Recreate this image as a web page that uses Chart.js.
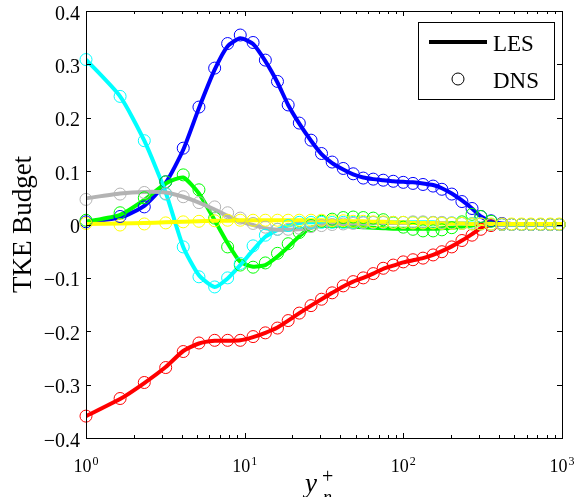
<!DOCTYPE html>
<html>
<head>
<meta charset="utf-8">
<script src="https://cdn.jsdelivr.net/npm/chart.js@4.4.0/dist/chart.umd.min.js"></script>
<style>
  html, body { margin: 0; padding: 0; background: #fff; }
  canvas { display: block; }
</style>
</head>
<body>
<canvas id="tkeChart" width="574" height="497"></canvas>
<script>
// wall distance y_n^+ of the DNS samples
const dnsX = [1.0, 1.64, 2.33, 3.18, 4.10, 5.15, 6.47, 7.81, 9.38, 11.3,
  13.5, 16.1, 18.8, 22.1, 26.2, 30.5, 35.6, 41.8, 48.3, 55.9,
  64.6, 74.7, 86.4, 99.9, 115, 133, 154, 175, 202, 234,
  271, 308, 357, 418, 481, 556, 637, 733, 843, 960];
// LES grid (same points, run out to the edge)
const lesX = [1.0, 1.64, 2.33, 3.18, 4.10, 5.15, 6.47, 7.81, 9.38, 11.3,
  13.5, 16.1, 18.8, 22.1, 26.2, 30.5, 35.6, 41.8, 48.3, 55.9,
  64.6, 74.7, 86.4, 99.9, 115, 133, 154, 175, 202, 234,
  271, 308, 357, 418, 481, 556, 637, 733, 843, 960, 1000];

// budget terms, DNS
const blueDns = [0.005, 0.015, 0.033, 0.080, 0.143, 0.220, 0.293, 0.339, 0.355, 0.341,
  0.308, 0.268, 0.224, 0.190, 0.158, 0.133, 0.117, 0.105, 0.095, 0.087,
  0.085, 0.083, 0.081, 0.079, 0.077, 0.075, 0.072, 0.066, 0.057, 0.043,
  0.030, 0.015, 0.007, 0.002, 0, 0, 0, 0, 0, 0];
const redDns = [-0.359, -0.326, -0.296, -0.268, -0.238, -0.222, -0.217, -0.217, -0.217, -0.210,
  -0.203, -0.194, -0.180, -0.166, -0.152, -0.140, -0.128, -0.115, -0.107, -0.100,
  -0.092, -0.082, -0.076, -0.070, -0.066, -0.063, -0.057, -0.051, -0.042, -0.030,
  -0.020, -0.009, -0.002, 0, 0, 0, 0, 0, 0, 0];
const greenDns = [0.008, 0.022, 0.050, 0.080, 0.093, 0.065, 0.012, -0.042, -0.076, -0.080,
  -0.072, -0.054, -0.036, -0.015, -0.002, 0.006, 0.010, 0.013, 0.014, 0.013,
  0.012, 0.009, 0.003, -0.005, -0.009, -0.012, -0.012, -0.010, -0.006, 0.005,
  0.019, 0.015, 0.006, 0, 0, 0, 0, 0, 0, 0];
const cyanDns = [0.309, 0.240, 0.157, 0.057, -0.042, -0.098, -0.117, -0.100, -0.073, -0.040,
  -0.020, -0.009, -0.002, 0.004, 0.004, 0.004, 0.004, 0.004, 0.004, 0.004,
  0.004, 0.004, 0.004, 0.004, 0.004, 0.004, 0.004, 0.003, 0.003, 0.002,
  0.002, 0.001, 0, 0, 0, 0, 0, 0, 0, 0];
const grayDns = [0.047, 0.057, 0.060, 0.058, 0.052, 0.041, 0.033, 0.022, 0.012, 0.002,
  -0.005, -0.009, -0.009, -0.007, -0.004, -0.002, 0.000, 0.001, 0.002, 0.003,
  0.004, 0.004, 0.004, 0.004, 0.005, 0.005, 0.004, 0.004, 0.003, 0.002,
  0.001, 0.001, 0, 0, 0, 0, 0, 0, 0, 0];
const yellowDns = [0.002, -0.001, 0.001, 0.003, 0.005, 0.006, 0.007, 0.008, 0.008, 0.008,
  0.008, 0.008, 0.008, 0.008, 0.008, 0.008, 0.007, 0.007, 0.006, 0.006,
  0.005, 0.005, 0.004, 0.004, 0.003, 0.003, 0.003, 0.002, 0.002, 0.002,
  0.001, 0.001, 0.001, 0.001, 0.001, 0.001, 0.001, 0.001, 0.001, 0.001];

// budget terms, LES
const blueLes = [0.005, 0.013, 0.035, 0.078, 0.140, 0.218, 0.290, 0.334, 0.349, 0.338,
  0.306, 0.266, 0.224, 0.189, 0.157, 0.132, 0.115, 0.103, 0.094, 0.088,
  0.085, 0.083, 0.081, 0.080, 0.079, 0.077, 0.074, 0.068, 0.058, 0.045,
  0.030, 0.015, 0.006, 0.002, 0.001, 0, 0, 0, 0, 0, 0];
const redLes = [-0.359, -0.327, -0.297, -0.267, -0.237, -0.223, -0.218, -0.218, -0.217, -0.211,
  -0.203, -0.193, -0.180, -0.166, -0.152, -0.140, -0.128, -0.116, -0.107, -0.100,
  -0.092, -0.083, -0.077, -0.071, -0.067, -0.063, -0.057, -0.050, -0.041, -0.030,
  -0.018, -0.007, -0.001, 0, 0, 0, 0, 0, 0, 0, 0];
const greenLes = [0.005, 0.018, 0.046, 0.077, 0.088, 0.058, 0.008, -0.035, -0.070, -0.079,
  -0.076, -0.060, -0.042, -0.022, -0.006, -0.003, -0.003, -0.003, -0.004, -0.005,
  -0.006, -0.007, -0.008, -0.008, -0.008, -0.008, -0.008, -0.007, -0.006, -0.004,
  -0.002, 0.001, 0.002, 0, 0, 0, 0, 0, 0, 0, 0];
const cyanLes = [0.309, 0.240, 0.157, 0.060, -0.042, -0.095, -0.117, -0.101, -0.076, -0.048,
  -0.023, -0.010, -0.002, 0.003, 0.004, 0.004, 0.004, 0.004, 0.004, 0.004,
  0.004, 0.004, 0.004, 0.004, 0.004, 0.004, 0.004, 0.003, 0.003, 0.002,
  0.002, 0.001, 0, 0, 0, 0, 0, 0, 0, 0, 0];
const grayLes = [0.049, 0.058, 0.061, 0.060, 0.052, 0.041, 0.028, 0.016, 0.006, -0.001,
  -0.007, -0.010, -0.010, -0.009, -0.006, -0.002, 0.000, 0.001, 0.002, 0.002,
  0.003, 0.003, 0.003, 0.003, 0.003, 0.003, 0.003, 0.003, 0.002, 0.002,
  0.001, 0.001, 0, 0, 0, 0, 0, 0, 0, 0, 0];
const yellowLes = [0.001, 0.002, 0.003, 0.004, 0.005, 0.006, 0.007, 0.007, 0.008, 0.008,
  0.008, 0.008, 0.008, 0.008, 0.008, 0.008, 0.007, 0.007, 0.006, 0.006,
  0.005, 0.005, 0.004, 0.004, 0.003, 0.003, 0.003, 0.002, 0.002, 0.002,
  0.001, 0.001, 0.001, 0.001, 0.001, 0.001, 0.001, 0.001, 0.001, 0.001, 0.001];

// axis ticks
const xMajor = [1, 10, 100, 1000];
const xMajorExp = ['0', '1', '2', '3'];
const yTicks = [0.4, 0.3, 0.2, 0.1, 0, -0.1, -0.2, -0.3, -0.4];
const yTickLabels = ['0.4', '0.3', '0.2', '0.1', '0', '\u22120.1', '\u22120.2', '\u22120.3', '\u22120.4'];

const SERIF = '"Liberation Serif", "DejaVu Serif", serif';

function pts(xs, ys) {
  return ys.map((v, i) => ({x: xs[i], y: v}));
}

function lesSet(ys, color, order) {
  return {
    data: pts(lesX, ys),
    borderColor: color,
    borderWidth: 4,
    pointRadius: 0,
    tension: 0.2,
    fill: false,
    order: order
  };
}

function dnsSet(ys, color, order) {
  return {
    data: pts(dnsX, ys),
    showLine: false,
    borderColor: color,
    pointStyle: 'circle',
    pointRadius: 6,
    pointBorderWidth: 1,
    pointBorderColor: color,
    pointBackgroundColor: 'rgba(0,0,0,0)',
    clip: 10,
    order: order
  };
}

const frame = {
  id: 'frame',
  afterDatasetsDraw(chart) {
    const ctx = chart.ctx;
    const a = chart.chartArea;
    const xs = chart.scales.x;
    const ys = chart.scales.y;
    ctx.save();
    ctx.strokeStyle = '#000';
    ctx.lineWidth = 1;
    ctx.strokeRect(a.left + 0.5, a.top + 0.5, a.right - a.left, a.bottom - a.top);

    ctx.beginPath();
    for (let d = 1; d < 1000; d *= 10) {
      for (let k = 1; k < 10; k++) {
        const len = k === 1 ? 5 : 3;
        const px = Math.round(xs.getPixelForValue(d * k)) + 0.5;
        ctx.moveTo(px, a.bottom); ctx.lineTo(px, a.bottom - len);
        ctx.moveTo(px, a.top); ctx.lineTo(px, a.top + len);
      }
    }
    yTicks.forEach(v => {
      const py = Math.round(ys.getPixelForValue(v)) + 0.5;
      ctx.moveTo(a.left, py); ctx.lineTo(a.left + 5, py);
      ctx.moveTo(a.right, py); ctx.lineTo(a.right - 5, py);
    });
    ctx.stroke();

    ctx.fillStyle = '#000';
    // y tick labels
    ctx.font = '20px ' + SERIF;
    ctx.textAlign = 'right';
    ctx.textBaseline = 'alphabetic';
    yTicks.forEach((v, i) => {
      ctx.fillText(yTickLabels[i], a.left - 6, ys.getPixelForValue(v) + 8.5);
    });
    // x tick labels 10^n
    xMajor.forEach((v, i) => {
      const px = xs.getPixelForValue(v);
      ctx.font = '18px ' + SERIF;
      const w1 = ctx.measureText('10').width;
      ctx.font = '12px ' + SERIF;
      const w2 = ctx.measureText(xMajorExp[i]).width;
      const left = px - (w1 + w2 + 1) / 2;
      ctx.textAlign = 'left';
      ctx.font = '18px ' + SERIF;
      ctx.fillText('10', left, a.bottom + 34);
      ctx.font = '12px ' + SERIF;
      ctx.fillText(xMajorExp[i], left + w1 + 1, a.bottom + 27);
    });

    // axis titles
    ctx.save();
    ctx.translate(31, (a.top + a.bottom) / 2);
    ctx.rotate(-Math.PI / 2);
    ctx.textAlign = 'center';
    ctx.font = '27px ' + SERIF;
    ctx.fillText('TKE Budget', 0, 0);
    ctx.restore();

    ctx.textAlign = 'left';
    ctx.font = 'italic 27px ' + SERIF;
    ctx.fillText('y', 305, 492);
    ctx.font = '20px ' + SERIF;
    ctx.fillText('+', 322, 483);
    ctx.font = 'italic 18px ' + SERIF;
    ctx.fillText('n', 323, 503);

    // legend
    ctx.fillStyle = '#fff';
    ctx.fillRect(418, 22, 136, 77);
    ctx.strokeStyle = '#000';
    ctx.lineWidth = 1;
    ctx.strokeRect(418.5, 22.5, 136, 77);
    ctx.lineWidth = 4;
    ctx.beginPath();
    ctx.moveTo(429, 42); ctx.lineTo(487, 42);
    ctx.stroke();
    ctx.lineWidth = 1;
    ctx.beginPath();
    ctx.arc(458, 79, 6, 0, Math.PI * 2);
    ctx.stroke();
    ctx.fillStyle = '#000';
    ctx.font = '23px ' + SERIF;
    ctx.fillText('LES', 493, 51);
    ctx.fillText('DNS', 493, 88);
    ctx.restore();
  }
};

new Chart(document.getElementById('tkeChart'), {
  type: 'line',
  data: {
    datasets: [
      lesSet(blueLes, '#0000ff', 12),
      lesSet(redLes, '#ff0000', 11),
      lesSet(greenLes, '#00ff00', 10),
      lesSet(cyanLes, '#00ffff', 9),
      lesSet(grayLes, '#b3b3b3', 8),
      lesSet(yellowLes, '#ffff00', 7),
      dnsSet(blueDns, '#0000ff', 6),
      dnsSet(redDns, '#ff0000', 5),
      dnsSet(greenDns, '#00ff00', 4),
      dnsSet(cyanDns, '#00ffff', 3),
      dnsSet(grayDns, '#b3b3b3', 2),
      dnsSet(yellowDns, '#ffff00', 1)
    ]
  },
  options: {
    responsive: false,
    animation: false,
    devicePixelRatio: 1,
    layout: {padding: {left: 86, top: 11, right: 12, bottom: 59}},
    plugins: {legend: {display: false}, tooltip: {enabled: false}},
    scales: {
      x: {type: 'logarithmic', min: 1, max: 1000, display: false},
      y: {type: 'linear', min: -0.4, max: 0.4, display: false}
    }
  },
  plugins: [frame]
});
</script>
</body>
</html>
